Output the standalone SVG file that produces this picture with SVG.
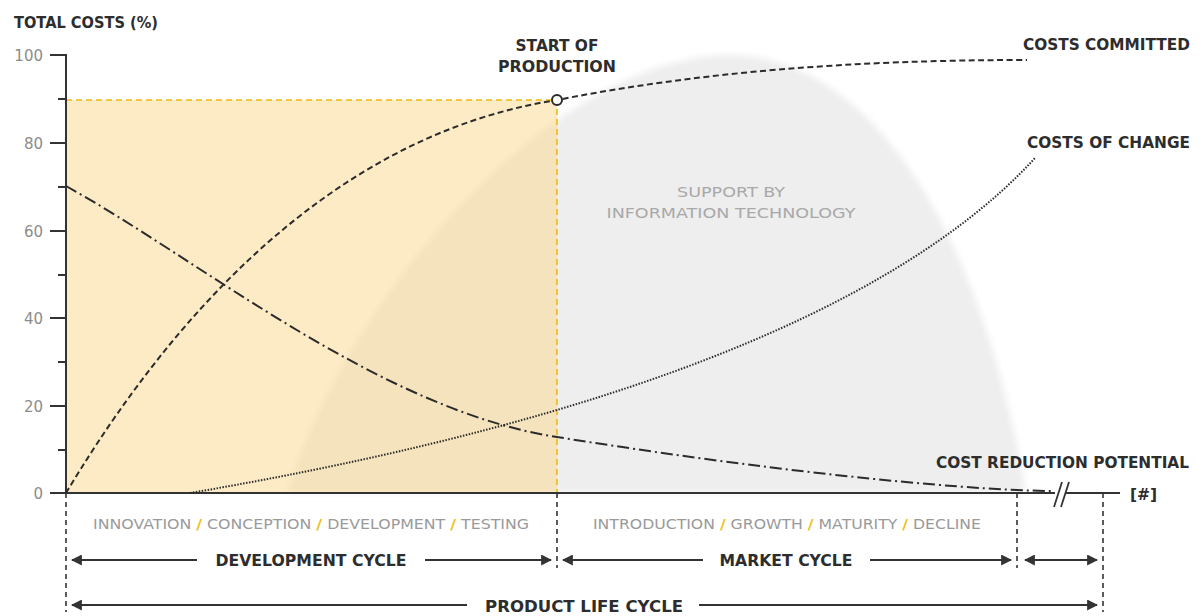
<svg xmlns="http://www.w3.org/2000/svg" width="1202" height="616" viewBox="0 0 1202 616">
<defs>
<style>
.lbl{font-family:"DejaVu Sans","Liberation Sans",sans-serif;font-weight:bold;font-size:15.5px;fill:#2d2d2d}
.tick{font-family:"DejaVu Sans","Liberation Sans",sans-serif;font-size:15px;fill:#8c8c8c}
.phase{font-family:"DejaVu Sans","Liberation Sans",sans-serif;font-size:14.5px;fill:#9a9a9a}
.it{font-family:"DejaVu Sans","Liberation Sans",sans-serif;font-size:14.5px;fill:#a9a9a9}
.sl{fill:#efbf14;font-weight:bold}
.ax{stroke:#333;stroke-width:2;fill:none}
.vd{stroke:#333;stroke-width:1.6;stroke-dasharray:5 4;fill:none}
.arr{stroke:#333;stroke-width:2;fill:none}
.curve{stroke:#2b2b2b;fill:none;stroke-width:2}
</style>
<marker id="ah" viewBox="0 0 10 10" refX="9" refY="5" markerWidth="11" markerHeight="11" markerUnits="userSpaceOnUse" orient="auto-start-reverse">
<path d="M0 0 L10 5 L0 10 Z" fill="#333"/>
</marker>
<filter id="blur" x="-5%" y="-5%" width="110%" height="110%"><feGaussianBlur stdDeviation="3"/></filter>
</defs>
<rect width="1202" height="616" fill="#fff"/>

<g id="it-support">
<path d="M287 493 C 345 300, 550 58, 728 55 C 880 55, 985 250, 1026 493 Z" fill="#eeeeee" filter="url(#blur)"/>
<text class="it" x="731" y="197" text-anchor="middle" textLength="108" lengthAdjust="spacingAndGlyphs">SUPPORT BY</text>
<text class="it" x="731" y="218" text-anchor="middle" textLength="249" lengthAdjust="spacingAndGlyphs">INFORMATION TECHNOLOGY</text>
</g>

<g id="development-area">
<rect x="66" y="100" width="491" height="393" fill="#fbd78b" fill-opacity="0.5"/>
<path d="M66 100 H557 V493" fill="none" stroke="#f2b90f" stroke-width="1.6" stroke-dasharray="6 4"/>
</g>

<g id="axes">
<path class="ax" d="M50 55 H66 V493 H1055 M1066 493 H1120"/>
<path class="ax" d="M50 143 H66 M50 231 H66 M50 318 H66 M50 406 H66 M50 493 H66 M58 99 H66 M58 187 H66 M58 275 H66 M58 362 H66 M58 450 H66"/>
<path d="M1054 507 L1062 482 M1061 507 L1069 482" stroke="#333" stroke-width="1.8"/>
<text class="lbl" x="14" y="28" textLength="144" lengthAdjust="spacingAndGlyphs">TOTAL COSTS (%)</text>
<text class="tick" x="43" y="61" text-anchor="end">100</text>
<text class="tick" x="43" y="149" text-anchor="end">80</text>
<text class="tick" x="43" y="237" text-anchor="end">60</text>
<text class="tick" x="43" y="324" text-anchor="end">40</text>
<text class="tick" x="43" y="412" text-anchor="end">20</text>
<text class="tick" x="43" y="499" text-anchor="end">0</text>
<text class="lbl" x="1130" y="500">[#]</text>
</g>

<g id="connectors">
<path class="curve" d="M66 493 C 140 370, 300 140, 557 100 C 700 72, 850 60, 1027 60" stroke-dasharray="6 3.5"/>
<path class="curve" d="M66 186 C 200 260, 380 410, 557 437 C 750 468, 950 490, 1052 491" stroke-dasharray="12 4 2 4"/>
<path class="curve" d="M190 493 C 430 452, 850 360, 1035 158" stroke-width="1.7" stroke-dasharray="1.5 1.5"/>
<circle cx="557" cy="100" r="5" fill="#fff" stroke="#2b2b2b" stroke-width="2"/>
<path class="vd" d="M66 493 V612 M557 493 V568 M1017 493 V568 M1103 493 V612"/>
<path class="arr" d="M197 560 H72" marker-end="url(#ah)"/>
<path class="arr" d="M425 560 H551" marker-end="url(#ah)"/>
<path class="arr" d="M703 560 H563" marker-end="url(#ah)"/>
<path class="arr" d="M870 560 H1011" marker-end="url(#ah)"/>
<path class="arr" d="M1025 560 H1097" marker-start="url(#ah)" marker-end="url(#ah)"/>
<path class="arr" d="M467 605 H72" marker-end="url(#ah)"/>
<path class="arr" d="M699 605 H1097" marker-end="url(#ah)"/>
</g>

<g id="labels">
<text class="lbl" x="557" y="51" text-anchor="middle" textLength="83" lengthAdjust="spacingAndGlyphs">START OF</text>
<text class="lbl" x="557" y="72" text-anchor="middle" textLength="118" lengthAdjust="spacingAndGlyphs">PRODUCTION</text>
<text class="lbl" x="1190" y="50" text-anchor="end" textLength="167" lengthAdjust="spacingAndGlyphs">COSTS COMMITTED</text>
<text class="lbl" x="1190" y="148" text-anchor="end" textLength="163" lengthAdjust="spacingAndGlyphs">COSTS OF CHANGE</text>
<text class="lbl" x="1189" y="468" text-anchor="end" textLength="253" lengthAdjust="spacingAndGlyphs">COST REDUCTION POTENTIAL</text>
<text class="phase" x="93" y="529" textLength="436" lengthAdjust="spacingAndGlyphs">INNOVATION <tspan class="sl">/</tspan> CONCEPTION <tspan class="sl">/</tspan> DEVELOPMENT <tspan class="sl">/</tspan> TESTING</text>
<text class="phase" x="593" y="529" textLength="388" lengthAdjust="spacingAndGlyphs">INTRODUCTION <tspan class="sl">/</tspan> GROWTH <tspan class="sl">/</tspan> MATURITY <tspan class="sl">/</tspan> DECLINE</text>
<text class="lbl" x="311" y="566" text-anchor="middle" textLength="191" lengthAdjust="spacingAndGlyphs">DEVELOPMENT CYCLE</text>
<text class="lbl" x="786" y="566" text-anchor="middle" textLength="133" lengthAdjust="spacingAndGlyphs">MARKET CYCLE</text>
<text class="lbl" x="584" y="612" text-anchor="middle" textLength="198" lengthAdjust="spacingAndGlyphs">PRODUCT LIFE CYCLE</text>
</g>
</svg>
